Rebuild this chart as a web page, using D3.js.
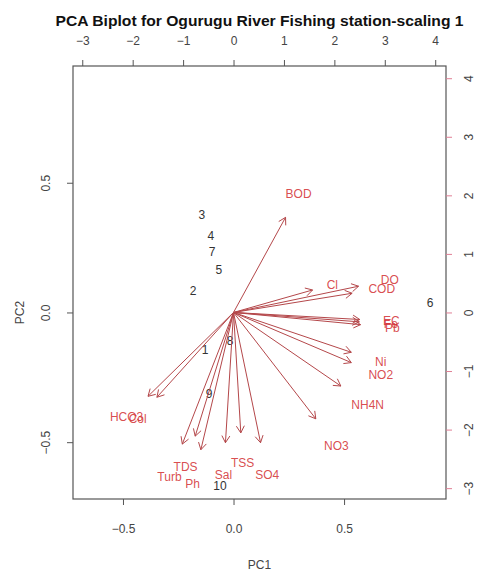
<!DOCTYPE html>
<html>
<head>
<meta charset="utf-8">
<script src="https://d3js.org/d3.v7.min.js"></script>
<style>
  body { margin: 0; background: #fff; }
  text { font-family: "Liberation Sans", Arial, sans-serif; }
</style>
</head>
<body>
<svg width="477" height="571"></svg>
<script>
    // sample scores (PC1 / PC2, bottom + left axes)
    const samples = ["1", "2", "3", "4", "5", "6", "7", "8", "9", "10"];
    const pc1 = [-0.129, -0.183, -0.143, -0.102, -0.066, 0.889, -0.097, -0.016, -0.111, -0.061];
    const pc2 = [-0.142, 0.085, 0.377, 0.296, 0.165, 0.038, 0.235, -0.108, -0.315, -0.669];

    // variable loadings (top + right axes)
    const variables = ["BOD", "Cl", "DO", "COD", "EC", "Fe", "Pb", "Ni", "NO2", "NH4N", "NO3",
        "HCO3", "Col", "TDS", "Turb", "Ph", "Sal", "TSS", "SO4"];
    const load1 = [1.29, 1.96, 3.10, 2.94, 3.13, 3.12, 3.15, 2.92, 2.92, 2.66, 2.04,
        -2.12, -1.90, -0.95, -1.27, -0.81, -0.20, 0.18, 0.67];
    const load2 = [2.03, 0.48, 0.56, 0.41, -0.15, -0.20, -0.26, -0.85, -1.07, -1.57, -2.27,
        -1.79, -1.81, -2.64, -2.81, -2.93, -2.78, -2.57, -2.78];

    const pcTicks = [-0.5, 0, 0.5];
    const loadTicks = [-3, -2, -1, 0, 1, 2, 3, 4];

    const box = {left: 73, right: 446, top: 66, bottom: 499};
    const xDom = [-0.726, 0.961], yDom = [-0.719, 0.95];
    const kx = 4.385, ky = 4.43;

    const svg = d3.select("svg");

    const x = d3.scaleLinear().domain(xDom).range([box.left, box.right]);
    const y = d3.scaleLinear().domain(yDom).range([box.bottom, box.top]);
    const xs = d3.scaleLinear().domain(xDom.map(d => d * kx)).range([box.left, box.right]);
    const ys = d3.scaleLinear().domain(yDom.map(d => d * ky)).range([box.bottom, box.top]);

    const axisGrey = "#555";

    // box
    svg.append("rect")
        .attr("x", box.left).attr("y", box.top)
        .attr("width", box.right - box.left).attr("height", box.bottom - box.top)
        .attr("fill", "none").attr("stroke", axisGrey).attr("stroke-width", 1.2);

    function styleAxis(g, col) {
        g.select(".domain").remove();
        g.selectAll("line").attr("stroke", col);
        g.selectAll("text").attr("fill", "#444").style("font-size", "12px");
    }

    // bottom
    svg.append("g")
        .attr("transform", "translate(0," + box.bottom + ")")
        .call(d3.axisBottom(x).tickValues(pcTicks).tickSize(6).tickFormat(d3.format(".1f")))
        .call(g => styleAxis(g, axisGrey))
        .selectAll("text").attr("y", 34).attr("dy", null);

    // left
    svg.append("g")
        .attr("transform", "translate(" + box.left + ",0)")
        .call(d3.axisLeft(y).tickValues(pcTicks).tickSize(6).tickFormat(d3.format(".1f")))
        .call(g => styleAxis(g, axisGrey))
        .selectAll("text")
        .attr("x", null).attr("dy", "0.35em")
        .attr("text-anchor", "middle")
        .attr("transform", "translate(-27,0) rotate(-90)");

    // top
    svg.append("g")
        .attr("transform", "translate(0," + box.top + ")")
        .call(d3.axisTop(xs).tickValues(loadTicks).tickSize(6))
        .call(g => styleAxis(g, axisGrey))
        .selectAll("text").attr("y", -21).attr("dy", null);

    // right
    svg.append("g")
        .attr("transform", "translate(" + box.right + ",0)")
        .call(d3.axisRight(ys).tickValues(loadTicks).tickSize(6))
        .call(g => styleAxis(g, "#e07f95"))
        .selectAll("text")
        .attr("x", null).attr("dy", "0.35em")
        .attr("text-anchor", "middle")
        .attr("transform", "translate(23,0) rotate(-90)");

    // axis titles
    svg.append("text")
        .attr("x", (box.left + box.right) / 2).attr("y", 569)
        .attr("text-anchor", "middle").attr("fill", "#444")
        .style("font-size", "12px").text("PC1");

    svg.append("text")
        .attr("transform", "translate(24," + y(0) + ") rotate(-90)")
        .attr("text-anchor", "middle").attr("fill", "#444")
        .style("font-size", "12px").text("PC2");

    svg.append("text")
        .attr("x", (box.left + box.right) / 2).attr("y", 26)
        .attr("text-anchor", "middle").attr("fill", "#111")
        .attr("textLength", 408).attr("lengthAdjust", "spacingAndGlyphs")
        .style("font-size", "15px").style("font-weight", "bold")
        .text("PCA Biplot for Ogurugu River Fishing station-scaling 1");

    // sample labels
    svg.append("g")
        .selectAll("text")
        .data(samples)
        .join("text")
        .attr("x", (d, i) => x(pc1[i]))
        .attr("y", (d, i) => y(pc2[i]))
        .attr("dy", "0.35em")
        .attr("text-anchor", "middle")
        .attr("fill", "#333")
        .style("font-size", "12px")
        .text(d => d);

    // arrows to 0.8 of loadings
    const arrowCol = "#b4474a", labelCol = "#d4373a";
    const head = 8, ang = Math.PI / 6;
    const ag = svg.append("g").attr("stroke", arrowCol).attr("fill", "none").attr("stroke-width", 1);

    variables.forEach((v, i) => {
        const x0 = xs(0), y0 = ys(0);
        const x1 = xs(0.8 * load1[i]), y1 = ys(0.8 * load2[i]);
        const a = Math.atan2(y1 - y0, x1 - x0);
        const path = d3.path();
        path.moveTo(x0, y0);
        path.lineTo(x1, y1);
        path.moveTo(x1 - head * Math.cos(a - ang), y1 - head * Math.sin(a - ang));
        path.lineTo(x1, y1);
        path.lineTo(x1 - head * Math.cos(a + ang), y1 - head * Math.sin(a + ang));
        ag.append("path").attr("d", path.toString());
    });

    // variable labels
    svg.append("g")
        .selectAll("text")
        .data(variables)
        .join("text")
        .attr("x", (d, i) => xs(load1[i]))
        .attr("y", (d, i) => ys(load2[i]))
        .attr("dy", "0.35em")
        .attr("text-anchor", "middle")
        .attr("fill", labelCol)
        .attr("fill-opacity", 0.9)
        .style("font-size", "12px")
        .text(d => d);
</script>
</body>
</html>
